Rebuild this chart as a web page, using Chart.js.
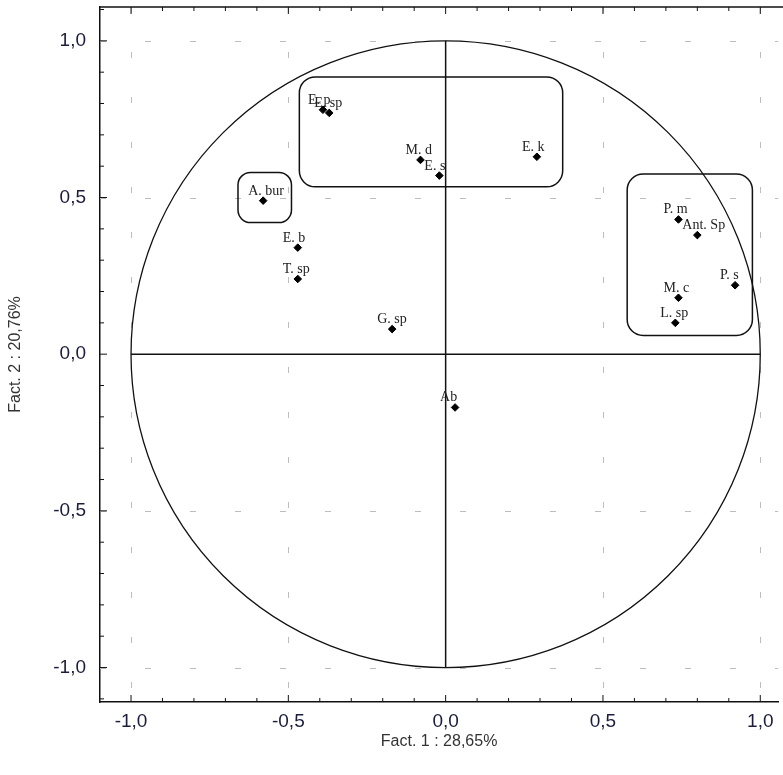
<!DOCTYPE html>
<html>
<head>
<meta charset="utf-8">
<script src="https://cdn.jsdelivr.net/npm/chart.js@4.4.1/dist/chart.umd.min.js"></script>
<style>
  html, body { margin: 0; padding: 0; background: #fff; overflow: hidden; }
  #wrap { width: 783px; height: 775px; position: relative; }
</style>
</head>
<body>
<div id="wrap"><canvas id="pca"></canvas></div>
<script>
// variables (Fact. 1, Fact. 2 coordinates)
var varNames = ['Ab', 'G. sp', 'T. sp', 'E. b', 'A. bur', 'E. p', 'E. sp', 'M. d', 'E. s', 'E. k',
                'P. m', 'Ant. Sp', 'P. s', 'M. c', 'L. sp'];
var fact1 = [0.03, -0.17, -0.47, -0.47, -0.58, -0.39, -0.37, -0.08, -0.02, 0.29,
             0.74, 0.80, 0.92, 0.74, 0.73];
var fact2 = [-0.17, 0.08, 0.24, 0.34, 0.49, 0.78, 0.77, 0.62, 0.57, 0.63,
             0.43, 0.38, 0.22, 0.18, 0.10];

var tickValues = [-1.0, -0.5, 0.0, 0.5, 1.0];

// group boxes: [x1, y1, x2, y2] in factor units
var groupBoxes = [
    [-0.465, 0.885, 0.372, 0.534],
    [-0.66, 0.58, -0.49, 0.42],
    [0.577, 0.575, 0.975, 0.06]
];

var points = [];
for (var i = 0; i < varNames.length; i++) {
    points.push({x: fact1[i], y: fact2[i], name: varNames[i]});
}

function fmt(v) {
    return v.toFixed(1).replace('.', ',');
}

var decorPlugin = {
    id: 'decor',
    beforeDatasetsDraw: function (chart) {
        var ctx = chart.ctx;
        var xs = chart.scales.x, ys = chart.scales.y;
        var a = chart.chartArea;
        ctx.save();

        // dashed grid at the major ticks
        ctx.strokeStyle = '#bdbdbd';
        ctx.lineWidth = 1;
        ctx.setLineDash([6, 39]);
        tickValues.forEach(function (v) {
            if (v === 0) return;
            var px = Math.round(xs.getPixelForValue(v)) + 0.5;
            ctx.beginPath(); ctx.moveTo(px, a.top); ctx.lineTo(px, a.bottom); ctx.stroke();
            var py = Math.round(ys.getPixelForValue(v)) + 0.5;
            ctx.beginPath(); ctx.moveTo(a.left, py); ctx.lineTo(a.right, py); ctx.stroke();
        });
        ctx.setLineDash([]);

        // frame top line and minor ticks
        ctx.strokeStyle = '#111';
        ctx.lineWidth = 1.5;
        ctx.beginPath(); ctx.moveTo(a.left, a.top); ctx.lineTo(chart.width, a.top); ctx.stroke();
        ctx.lineWidth = 1;
        for (var k = -11; k <= 11; k++) {
            var v = k / 10;
            var len = (k % 5 === 0) ? 7 : 4;
            var px = xs.getPixelForValue(v);
            if (px > a.left && px < chart.width) {
                ctx.beginPath(); ctx.moveTo(px, a.bottom); ctx.lineTo(px, a.bottom - len); ctx.stroke();
                ctx.beginPath(); ctx.moveTo(px, a.top); ctx.lineTo(px, a.top + len); ctx.stroke();
            }
            var py = ys.getPixelForValue(v);
            if (py > a.top && py < a.bottom) {
                ctx.beginPath(); ctx.moveTo(a.left, py); ctx.lineTo(a.left + len, py); ctx.stroke();
            }
        }

        // unit circle
        var cx = xs.getPixelForValue(0), cy = ys.getPixelForValue(0);
        var rx = xs.getPixelForValue(1) - cx, ry = cy - ys.getPixelForValue(1);
        ctx.lineWidth = 1.3;
        ctx.strokeStyle = '#111';
        ctx.beginPath(); ctx.ellipse(cx, cy, rx, ry, 0, 0, Math.PI * 2); ctx.stroke();

        // axis cross
        ctx.lineWidth = 1.5;
        ctx.beginPath();
        ctx.moveTo(xs.getPixelForValue(-1), cy); ctx.lineTo(xs.getPixelForValue(1), cy);
        ctx.moveTo(cx, ys.getPixelForValue(1)); ctx.lineTo(cx, ys.getPixelForValue(-1));
        ctx.stroke();

        // group boxes
        ctx.lineWidth = 1.5;
        groupBoxes.forEach(function (b) {
            var x1 = xs.getPixelForValue(b[0]), x2 = xs.getPixelForValue(b[2]);
            var y1 = ys.getPixelForValue(b[1]), y2 = ys.getPixelForValue(b[3]);
            var r = Math.min(16, (x2 - x1) / 4, (y2 - y1) / 4);
            ctx.beginPath();
            ctx.roundRect(x1, y1, x2 - x1, y2 - y1, r);
            ctx.stroke();
        });
        ctx.restore();
    },
    afterDatasetsDraw: function (chart) {
        var ctx = chart.ctx;
        var xs = chart.scales.x, ys = chart.scales.y;
        ctx.save();
        ctx.font = '14px "Liberation Serif", "DejaVu Serif", serif';
        ctx.fillStyle = '#222';
        ctx.textBaseline = 'alphabetic';
        points.forEach(function (p) {
            var px = xs.getPixelForValue(p.x), py = ys.getPixelForValue(p.y);
            ctx.fillText(p.name, px - 15, py - 6);
        });
        ctx.restore();
    }
};

var ctx = document.getElementById('pca').getContext('2d');
var chart = new Chart(ctx, {
    type: 'scatter',
    data: {
        datasets: [{
            label: 'variables',
            data: points,
            backgroundColor: '#000',
            borderColor: '#000',
            pointStyle: 'rectRot',
            pointRadius: 3.8,
            pointHoverRadius: 3.8
        }]
    },
    options: {
        responsive: true,
        maintainAspectRatio: false,
        animation: false,
        layout: {padding: {top: 7, left: 0, right: 0, bottom: 0}},
        plugins: {
            legend: {display: false},
            tooltip: {enabled: false}
        },
        scales: {
            x: {
                type: 'linear',
                min: -1.0986,
                max: 1.057,
                afterFit: function (s) {
                    s.height = 73;
                    s.paddingLeft = 0; s.paddingRight = 0;
                    s.paddingTop = 0; s.paddingBottom = 0;
                },
                afterBuildTicks: function (s) {
                    s.ticks = tickValues.map(function (v) { return {value: v}; });
                },
                grid: {display: false, drawTicks: false},
                border: {display: true, color: '#111', width: 1.5},
                ticks: {
                    padding: 8,
                    color: '#1c1c3c',
                    font: {family: '"Liberation Sans", Arial, sans-serif', size: 19},
                    callback: function (v) { return fmt(v); }
                },
                title: {
                    display: true,
                    text: 'Fact. 1 : 28,65%',
                    color: '#333',
                    font: {family: '"Liberation Sans", Arial, sans-serif', size: 16},
                    padding: {top: 0, bottom: 24}
                }
            },
            y: {
                type: 'linear',
                min: -1.11,
                max: 1.108,
                afterFit: function (s) {
                    s.width = 100;
                    s.paddingLeft = 0; s.paddingRight = 0;
                    s.paddingTop = 0; s.paddingBottom = 0;
                },
                afterBuildTicks: function (s) {
                    s.ticks = tickValues.map(function (v) { return {value: v}; });
                },
                grid: {display: false, drawTicks: false},
                border: {display: true, color: '#111', width: 1.5},
                ticks: {
                    padding: 14,
                    color: '#1c1c3c',
                    font: {family: '"Liberation Sans", Arial, sans-serif', size: 19},
                    callback: function (v) { return fmt(v); }
                },
                title: {
                    display: true,
                    text: 'Fact. 2 : 20,76%',
                    color: '#333',
                    font: {family: '"Liberation Sans", Arial, sans-serif', size: 16},
                    padding: {top: 6, bottom: 0}
                }
            }
        }
    },
    plugins: [decorPlugin]
});
</script>
</body>
</html>
